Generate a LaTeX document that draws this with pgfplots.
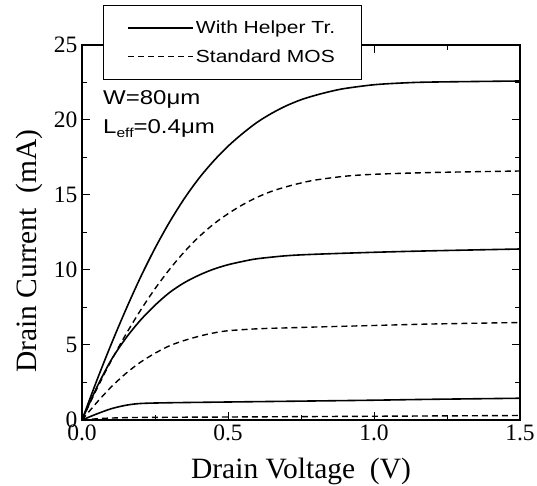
\documentclass[border=0pt]{standalone}
\usepackage{fontspec}
\setmainfont{Liberation Serif}
\newfontfamily\sans[FakeStretch=1.2]{Liberation Sans}
\usepackage{pgfplots}
\pgfplotsset{compat=1.18}

\begin{document}
\begin{tikzpicture}
\begin{axis}[
    name=ax,
    scale only axis,
    width=438pt,
    height=375pt,
    xmin=0, xmax=1.5,
    ymin=0, ymax=25,
    xtick={0,0.5,1,1.5},
    minor x tick num=1,
    ytick={0,5,...,25},
    minor y tick num=1,
    tick align=inside,
    major tick length=8pt,
    minor tick length=5pt,
    axis line style={line width=1.3pt},
    every tick/.style={black, line width=1pt},
    /pgf/number format/assume math mode=true,
    x tick label style={/pgf/number format/fixed, /pgf/number format/fixed zerofill,
        /pgf/number format/precision=1, yshift=-1pt},
    yticklabel style={xshift=-1pt},
    tick label style={font=\fontsize{23.5}{25}\selectfont},
    label style={font=\fontsize{29.5}{32}\selectfont},
    xlabel={Drain Voltage\ \ (V)},
    ylabel={Drain Current\ \ (mA)},
    xlabel style={at={(axis description cs:0.5,-0.1547)}, anchor=base},
    ylabel style={at={(axis description cs:-0.105,0.45)}, anchor=base},
    legend style={at={(0.048,1.107)}, anchor=north west, draw=black,
        line width=0.6pt, fill=white, font=\sans\fontsize{17.5}{20}\selectfont,
        inner xsep=24pt, inner ysep=14pt, row sep=10pt},
    legend cell align=left,
    legend image code/.code={\draw[#1] (0pt,0pt) -- (65pt,0pt);},
]
% with helper transistor, high gate voltage
\addplot[black, line width=1.6pt, smooth] coordinates {
    (0,0) (0.05,2.6) (0.1,5.05) (0.15,7.35) (0.2,9.5) (0.25,11.45) (0.3,13.2)
    (0.35,14.75) (0.4,16.1) (0.45,17.25) (0.5,18.25) (0.55,19.1) (0.6,19.85)
    (0.65,20.45) (0.7,20.95) (0.75,21.35) (0.8,21.65) (0.85,21.9) (0.9,22.1)
    (1.0,22.35) (1.1,22.47) (1.2,22.53) (1.5,22.6)};
\addlegendentry{With Helper Tr.}
% standard MOS, high gate voltage
\addplot[black, line width=1.4pt, smooth, dash pattern=on 6pt off 4pt] coordinates {
    (0,0) (0.05,2.05) (0.1,3.95) (0.15,5.7) (0.2,7.3) (0.25,8.75) (0.3,10.05)
    (0.35,11.2) (0.4,12.2) (0.45,13.05) (0.5,13.75) (0.55,14.35) (0.6,14.85)
    (0.65,15.25) (0.7,15.55) (0.75,15.8) (0.8,16.0) (0.9,16.25) (1.0,16.38)
    (1.2,16.5) (1.5,16.6)};
\addlegendentry{Standard MOS}
% middle gate voltage
\addplot[black, line width=1.6pt, smooth, forget plot] coordinates {
    (0,0) (0.05,2.15) (0.1,4.0) (0.15,5.45) (0.2,6.65) (0.25,7.65) (0.3,8.5)
    (0.35,9.15) (0.4,9.65) (0.45,10.05) (0.5,10.35) (0.55,10.57) (0.6,10.75)
    (0.7,10.95) (0.8,11.05) (1.0,11.18) (1.2,11.28) (1.5,11.4)};
\addplot[black, line width=1.4pt, smooth, dash pattern=on 6pt off 4pt, forget plot] coordinates {
    (0,0) (0.05,1.15) (0.1,2.2) (0.15,3.1) (0.2,3.85) (0.25,4.45) (0.3,4.95)
    (0.35,5.3) (0.4,5.58) (0.45,5.8) (0.5,5.95) (0.6,6.08) (0.7,6.14)
    (0.8,6.2) (1.0,6.3) (1.2,6.4) (1.5,6.5)};
% low gate voltage
\addplot[black, line width=1.6pt, smooth, forget plot] coordinates {
    (0,0) (0.05,0.4) (0.1,0.75) (0.15,0.98) (0.2,1.1) (0.3,1.15) (0.5,1.2)
    (0.8,1.27) (1.0,1.32) (1.2,1.38) (1.5,1.45)};
\addplot[black, line width=1.4pt, smooth, dash pattern=on 6pt off 4pt, forget plot] coordinates {
    (0,0) (0.05,0.08) (0.1,0.13) (0.2,0.17) (0.5,0.2) (1.0,0.25) (1.5,0.3)};

\node[anchor=base west, inner sep=0pt, font=\sans\fontsize{20}{22}\selectfont]
    at (axis cs:0.072,21.0) {W=80μm};
\node[anchor=base west, inner sep=0pt, font=\sans\fontsize{20}{22}\selectfont]
    at (axis cs:0.072,19.13) {L\raisebox{-0.4ex}{\fontsize{13}{13}\selectfont eff}=0.4μm};
\end{axis}
\pgfresetboundingbox
\path[use as bounding box] ([shift={(-82pt,-66pt)}]ax.south west)
    rectangle ([shift={(17pt,45pt)}]ax.north east);
\end{tikzpicture}
\end{document}
